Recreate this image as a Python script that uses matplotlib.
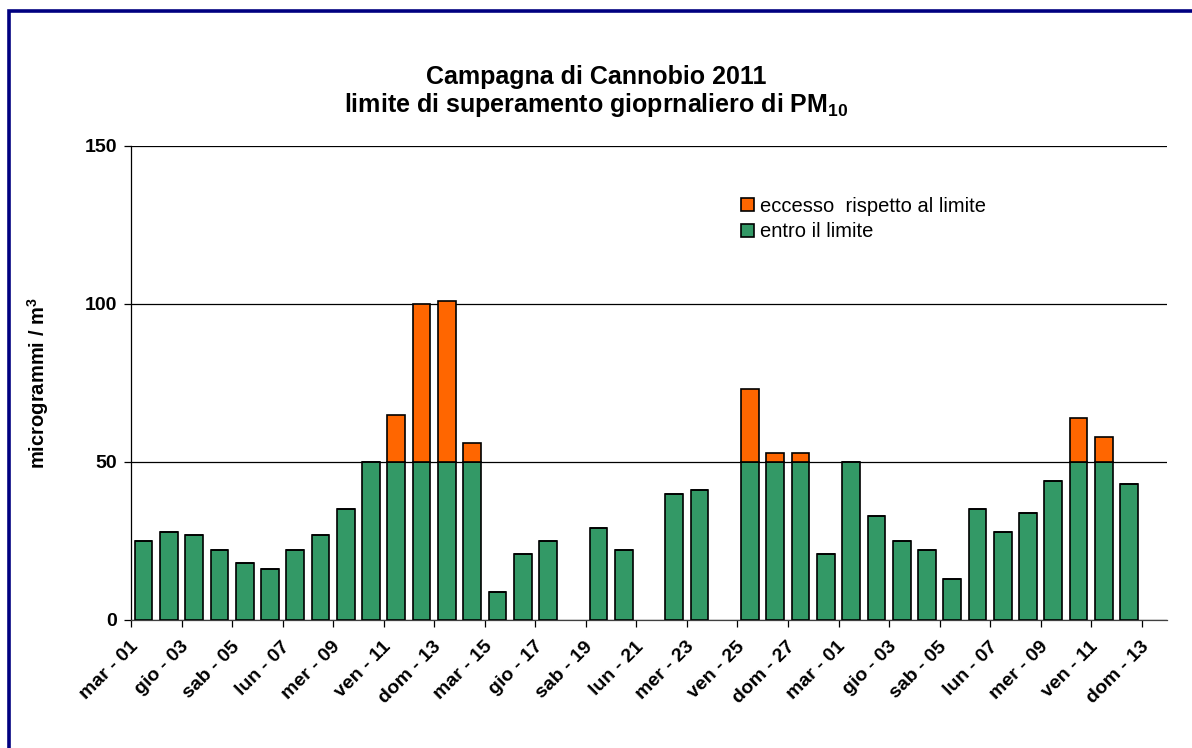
import numpy as np
import matplotlib
matplotlib.use("Agg")
import matplotlib.pyplot as plt
from matplotlib.patches import Rectangle
from matplotlib.transforms import ScaledTranslation

plt.rcParams['font.family'] = ['Liberation Sans', 'DejaVu Sans']

# PM10 daily means (µg/m3), 1 Feb - 13 Mar 2011; nan = no data
valori = [25, 28, 27, 22, 18, 16, 22, 27, 35, 50,
          65, 100, 101, 56, 9, 21, 25, np.nan, 29, 22,
          np.nan, 40, 41, np.nan, 73, 53, 53, 21, 50, 33,
          25, 22, 13, 35, 28, 34, 44, 64, 58, 43, np.nan]
limite = 50

etichette = ['mar - 01', 'gio - 03', 'sab - 05', 'lun - 07', 'mer - 09',
             'ven - 11', 'dom - 13', 'mar - 15', 'gio - 17', 'sab - 19',
             'lun - 21', 'mer - 23', 'ven - 25', 'dom - 27', 'mar - 01',
             'gio - 03', 'sab - 05', 'lun - 07', 'mer - 09', 'ven - 11',
             'dom - 13']

VERDE = '#339966'
ARANCIO = '#FF6600'

v = np.array(valori, dtype=float)
entro = np.minimum(v, limite)
eccesso = np.where(v > limite, v - limite, 0)
x = np.arange(len(v))

fig = plt.figure(figsize=(11.92, 7.48), dpi=100)
ax = fig.add_axes([131 / 1192, 1 - 620 / 748, (1167 - 131) / 1192, (620 - 146) / 748])

ax.bar(x, entro, width=0.7, color=VERDE, edgecolor='black', linewidth=1.2,
       label='entro il limite', zorder=3)
ax.bar(x, eccesso, bottom=entro, width=0.7, color=ARANCIO, edgecolor='black',
       linewidth=1.2, label='eccesso  rispetto al limite', zorder=3)

ax.set_xlim(-0.5, len(v) - 0.5)
ax.set_ylim(0, 150)
ax.set_yticks([0, 50, 100, 150])
ax.yaxis.grid(True, color='black', linewidth=0.9)
ax.set_axisbelow(True)
for s in ['top', 'right']:
    ax.spines[s].set_visible(False)
ax.spines['left'].set_linewidth(0.9)
ax.spines['bottom'].set_linewidth(0.9)
ax.spines['bottom'].set_color('#404040')

ax.tick_params(axis='y', length=5, width=0.9, labelsize=14, pad=5)
for t in ax.get_yticklabels():
    t.set_fontweight('bold')

# labels on every other day, tick marks on category borders
ax.set_xticks(x[::2])
ax.set_xticklabels(etichette, rotation=45, ha='right', fontsize=14,
                   fontweight='bold')
ax.set_xticks(x[::2] - 0.5, minor=True)
ax.tick_params(axis='x', which='major', length=0, pad=13)
ax.tick_params(axis='x', which='minor', length=5, width=0.9)
off = ScaledTranslation(-2 / 100, 0, fig.dpi_scale_trans)
for t in ax.get_xticklabels():
    t.set_transform(t.get_transform() + off)

ax.set_ylabel('microgrammi / m$^\\mathregular{3}$', fontsize=14.5,
              fontweight='bold', labelpad=24)

h, l = ax.get_legend_handles_labels()
ax.legend(h[::-1], l[::-1], loc='upper left', bbox_to_anchor=(0.581, 0.91),
          frameon=False, fontsize=14.5, handlelength=0.65, handleheight=0.65,
          handletextpad=0.3, labelspacing=0.33, borderaxespad=0)

fig.text(0.5, 1 - 77 / 748, 'Campagna di Cannobio 2011', ha='center',
         va='center', fontsize=18, fontweight='bold')
fig.text(0.5, 1 - 105 / 748,
         'limite di superamento gioprnaliero di PM$_\\mathregular{10}$',
         ha='center', va='center', fontsize=18, fontweight='bold')

# chart area border
fig.patches.append(Rectangle((8.5 / 1192, -0.1), 1.2, 1.1 - 11.5 / 748,
                             transform=fig.transFigure, fill=False,
                             edgecolor='#000080', linewidth=2.6))

fig.savefig('out.png', dpi=100)
